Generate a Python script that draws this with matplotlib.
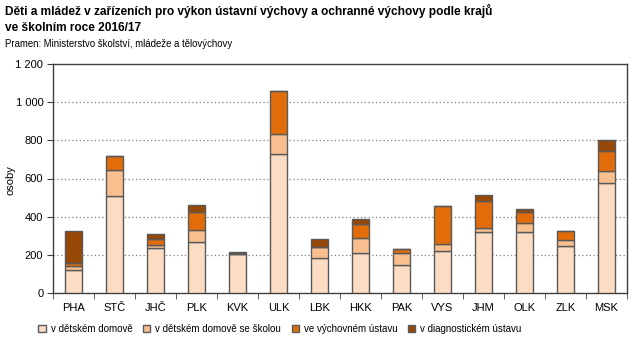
import numpy as np
import matplotlib.pyplot as plt

plt.rcParams['font.family'] = ['Liberation Sans', 'DejaVu Sans']

kraje = ['PHA', 'STČ', 'JHČ', 'PLK', 'KVK', 'ULK', 'LBK', 'HKK', 'PAK', 'VYS', 'JHM', 'OLK', 'ZLK', 'MSK']
detsky_domov = [121, 510, 237, 268, 203, 731, 184, 210, 147, 221, 321, 321, 247, 579]
domov_se_skolou = [21, 137, 17, 63, 0, 100, 58, 76, 63, 37, 18, 47, 32, 58]
vychovny_ustav = [14, 69, 30, 93, 7, 227, 0, 77, 22, 200, 145, 56, 47, 108]
diagnosticky_ustav = [170, 0, 26, 35, 5, 0, 42, 26, 0, 0, 32, 18, 0, 55]

series = [
    ('v dětském domově', detsky_domov, '#FCDCC2'),
    ('v dětském domově se školou', domov_se_skolou, '#F9BF8F'),
    ('ve výchovném ústavu', vychovny_ustav, '#E36C0A'),
    ('v diagnostickém ústavu', diagnosticky_ustav, '#984806'),
]

fig = plt.figure(figsize=(6.43, 3.51), dpi=100)
ax = fig.add_axes([53 / 643, 1 - 293 / 351, 574 / 643, 229 / 351])

x = np.arange(len(kraje))
bottom = np.zeros(len(kraje))
for name, vals, col in series:
    vals = np.array(vals, dtype=float)
    ax.bar(x, vals, width=0.4, bottom=bottom, color=col, edgecolor='#595959',
           linewidth=1.0, label=name, zorder=3)
    bottom += vals

ax.set_xlim(-0.5, len(kraje) - 0.5)
ax.set_ylim(0, 1200)
ax.set_yticks(range(0, 1201, 200))
ax.set_yticklabels(['0', '200', '400', '600', '800', '1 000', '1 200'], fontsize=8)
ax.set_xticks(x)
ax.set_xticklabels(kraje, fontsize=8)
ax.tick_params(axis='x', length=0, pad=7)
ax.set_xticks(np.arange(-0.5, len(kraje)), minor=True)
ax.tick_params(axis='x', which='minor', length=4, color='#404040', direction='out')
ax.tick_params(axis='y', length=4, color='#404040', direction='out', pad=3)

for yv in range(200, 1001, 200):
    ax.axhline(yv, color='#808080', linestyle=(0, (1, 2)), linewidth=0.9, zorder=1)

for s in ax.spines.values():
    s.set_color('#404040')
    s.set_linewidth(1.0)

fig.text(10 / 643, 1 - 180 / 351, 'osoby', fontsize=8, rotation=90, va='center', ha='center')

fig.text(5 / 643, 1 - 4 / 351,
         'Děti a mládež v zařízeních pro výkon ústavní výchovy a ochranné výchovy podle krajů\nve školním roce 2016/17',
         fontsize=8.6, fontweight='bold', va='top', ha='left', linespacing=1.4)
fig.text(5 / 643, 1 - 44 / 351, 'Pramen: Ministerstvo školství, mládeže a tělovýchovy',
         fontsize=6.9, va='center', ha='left')

fig.legend(loc='center', bbox_to_anchor=(280 / 643, 1 - 329 / 351), ncol=4, fontsize=7,
           frameon=False, handlelength=0.75, handleheight=0.75, handletextpad=0.5,
           columnspacing=1.1)

fig.savefig('out.png', dpi=100)
